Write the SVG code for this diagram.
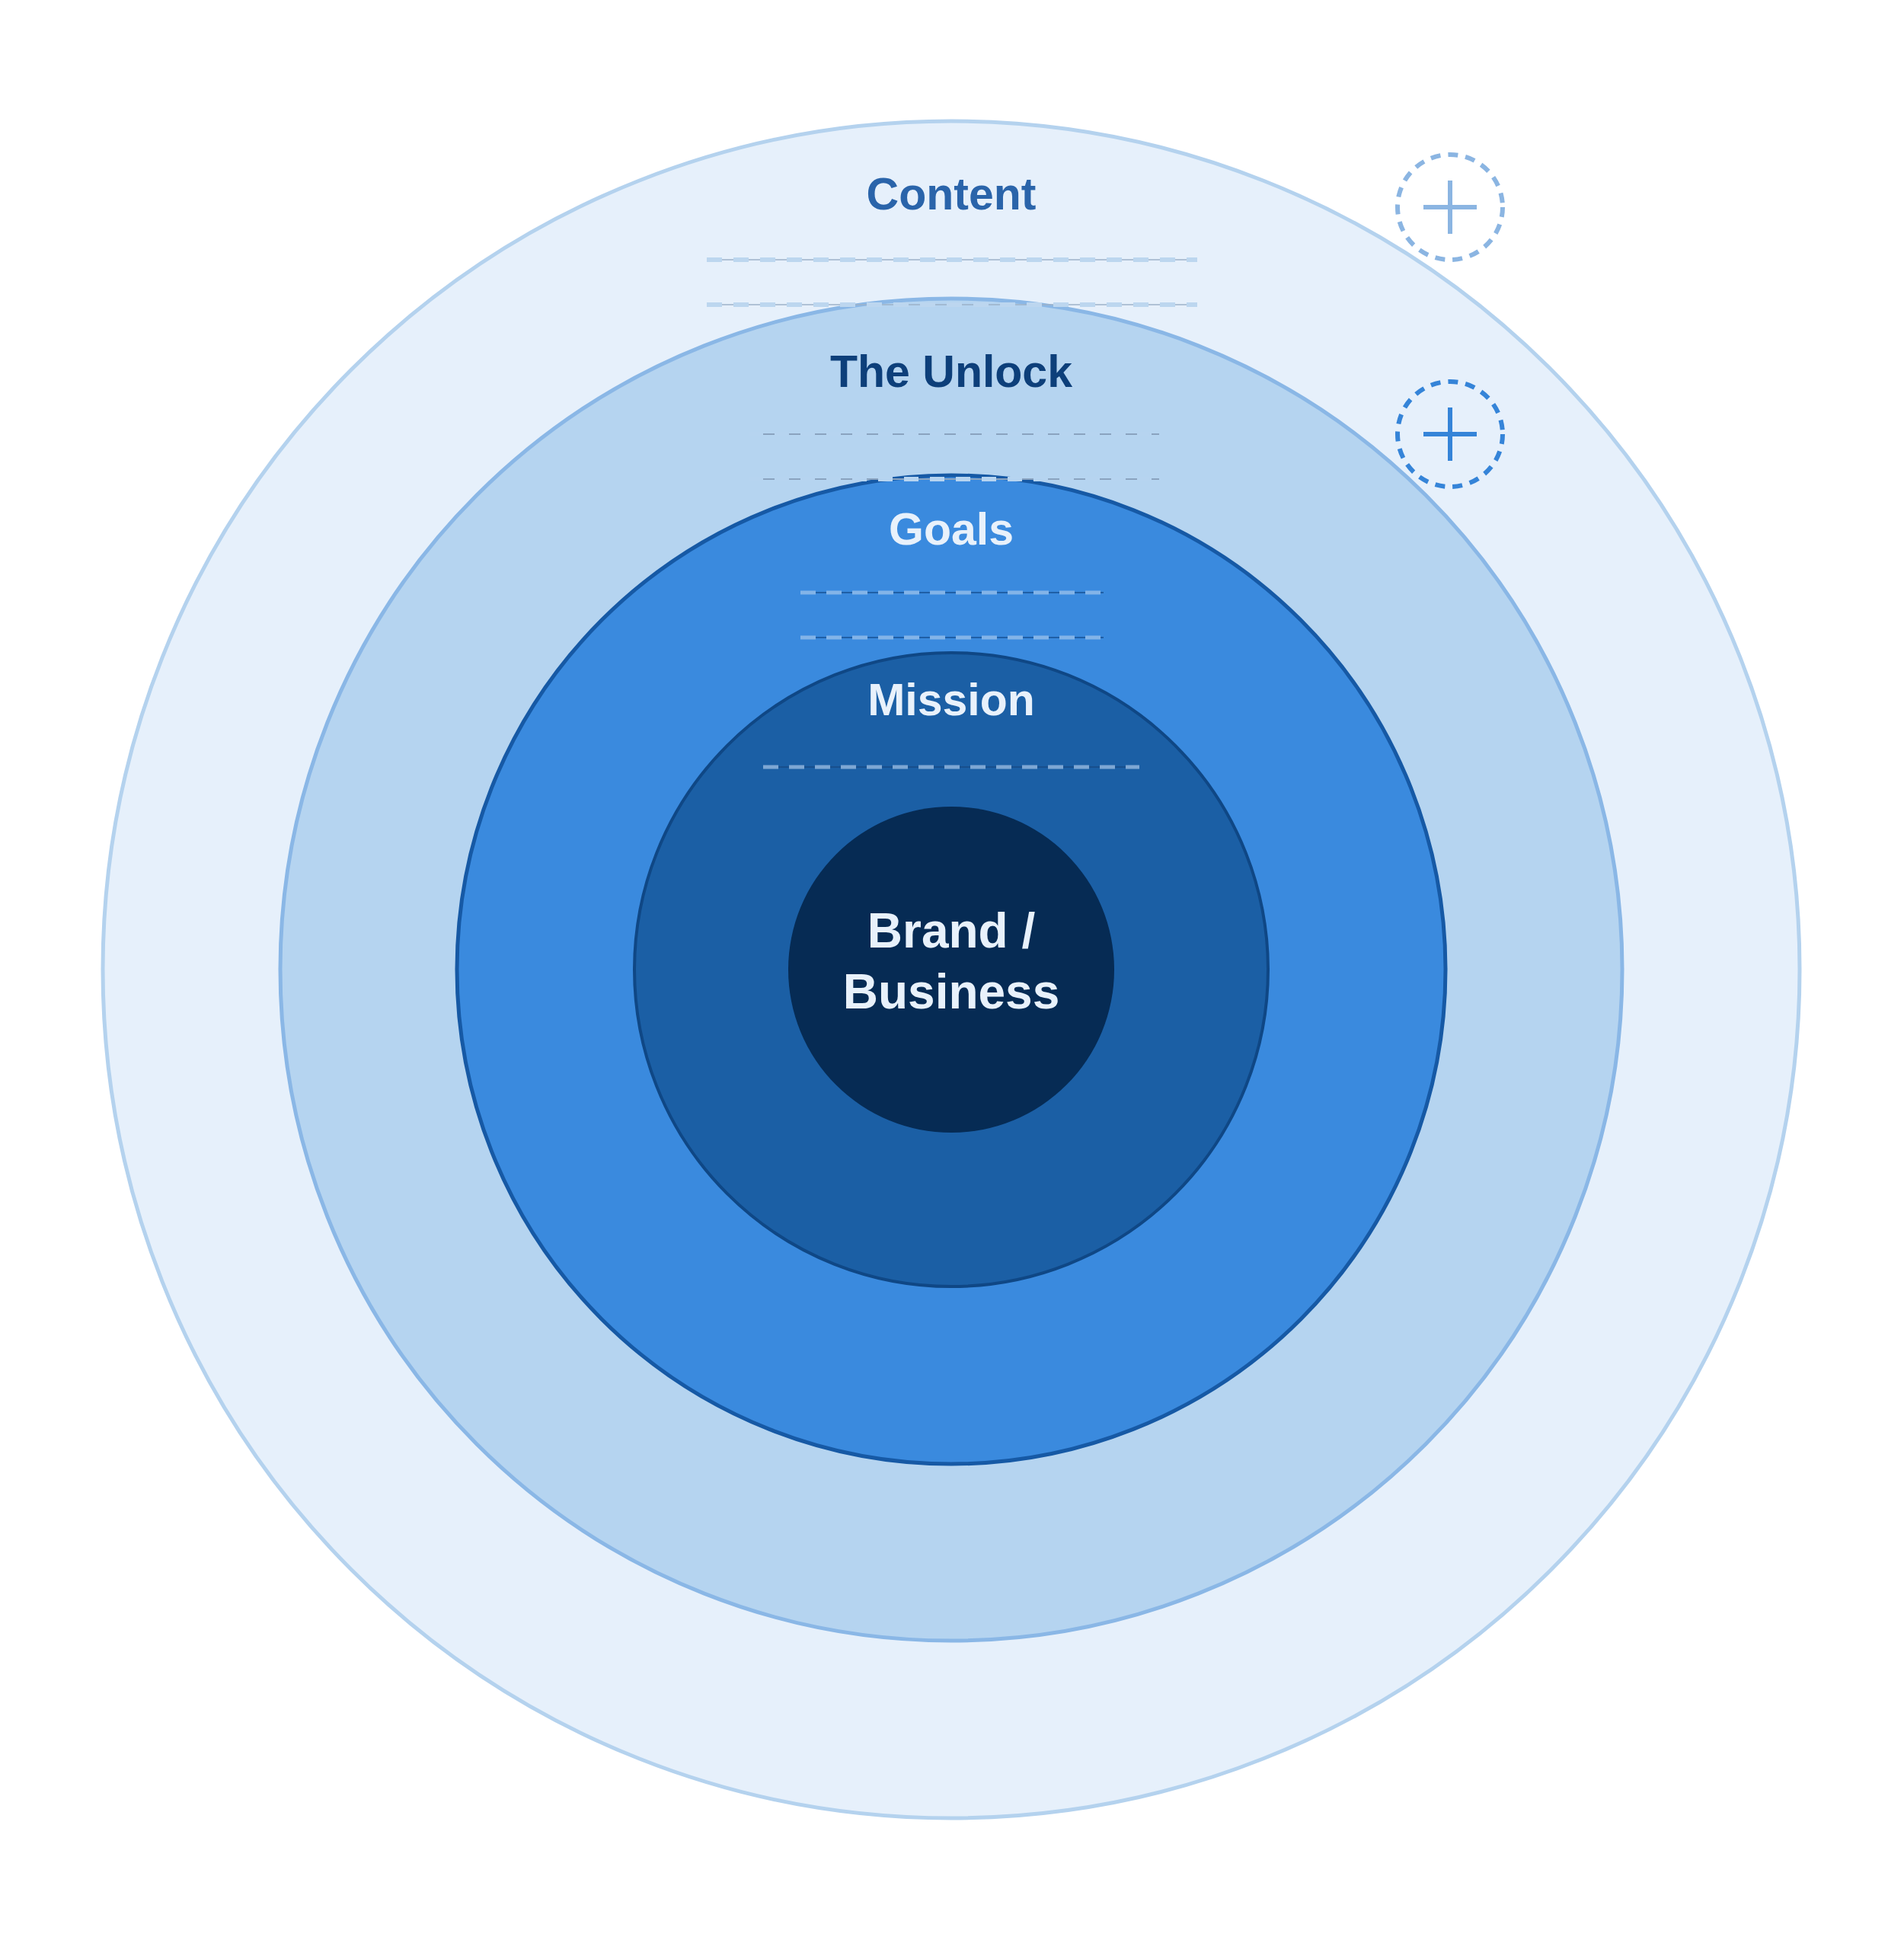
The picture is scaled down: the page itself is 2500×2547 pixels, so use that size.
<svg xmlns="http://www.w3.org/2000/svg" width="2500" height="2547" viewBox="0 0 2500 2547">
<defs>
<style>
.lbl{font-family:"Liberation Sans",Arial,Helvetica,sans-serif;font-weight:bold;text-anchor:middle}
.thin-c{stroke:#9db2c9;stroke-width:1.5;fill:none}
.thick-c{stroke:#bcd6ef;stroke-width:6;stroke-dasharray:20 15;fill:none}
.thin-u{stroke:#8aa3bf;stroke-width:2;fill:none}
.thick-u{stroke:#b6d4f0;stroke-width:6;stroke-dasharray:19 15;fill:none}
.thin-g{stroke:#1f5fa6;stroke-width:2;fill:none}
.thick-g{stroke:#83b4e8;stroke-width:5;stroke-dasharray:20 14;fill:none}
.thin-m{stroke:#184f8c;stroke-width:2;fill:none}
.thick-m{stroke:#7ea7d4;stroke-width:5;stroke-dasharray:20 14;fill:none}
.plus{fill:none;stroke-width:6}
</style>
</defs>
<rect width="2500" height="2547" fill="#ffffff"/>
<g id="content">
<circle cx="1249" cy="1273" r="1114" fill="#e6f0fb" stroke="#b4d2ee" stroke-width="5"/>
</g>
<g id="unlock">
<circle cx="1249" cy="1273" r="881" fill="#b5d4f0" stroke="#8ab7e6" stroke-width="5"/>
</g>
<g id="goals">
<circle cx="1249" cy="1273" r="649" fill="#3a8ade" stroke="#1659a5" stroke-width="5"/>
</g>
<g id="mission">
<circle cx="1249" cy="1273" r="416" fill="#1b5fa5" stroke="#0f4785" stroke-width="4"/>
</g>
<g id="brand">
<circle cx="1249" cy="1273" r="214" fill="#062b54"/>
<text class="lbl" x="1249" y="1244" font-size="64" fill="#e8f1fb">Brand /</text>
<text class="lbl" x="1249" y="1324" font-size="64" fill="#e8f1fb">Business</text>
</g>
<g id="connectors">
<line class="thin-c" x1="928" y1="341" x2="1572" y2="341"/>
<line class="thick-c" x1="928" y1="341" x2="1572" y2="341"/>
<line class="thin-c" x1="928" y1="400" x2="1572" y2="400"/>
<line class="thick-c" x1="928" y1="400" x2="1572" y2="400"/>
<line class="thin-u" x1="998" y1="570" x2="1522" y2="570"/>
<line class="thick-u" x1="983" y1="570" x2="1522" y2="570"/>
<line class="thin-u" x1="998" y1="629" x2="1522" y2="629"/>
<line class="thick-u" x1="983" y1="629" x2="1522" y2="629"/>
<line class="thin-g" x1="1051" y1="778" x2="1449" y2="778"/>
<line class="thick-g" x1="1051" y1="778" x2="1449" y2="778"/>
<line class="thin-g" x1="1051" y1="837" x2="1449" y2="837"/>
<line class="thick-g" x1="1051" y1="837" x2="1449" y2="837"/>
<line class="thin-m" x1="1002" y1="1007" x2="1496" y2="1007"/>
<line class="thick-m" x1="1002" y1="1007" x2="1496" y2="1007"/>
</g>
<g id="labels">
<text class="lbl" x="1249" y="275" font-size="59" fill="#2a64aa">Content</text>
<text class="lbl" x="1249" y="508" font-size="59" fill="#0d3f7a">The Unlock</text>
<text class="lbl" x="1249" y="715" font-size="59" fill="#e8f1fb">Goals</text>
<text class="lbl" x="1249" y="939" font-size="59" fill="#e8f1fb">Mission</text>
</g>
<g id="add-content">
<circle class="plus" cx="1904" cy="272" r="69" stroke="#8bb5e2" stroke-dasharray="13 10"/>
<path class="plus" d="M1869 272H1939M1904 237V307" stroke="#8bb5e2"/>
</g>
<g id="add-unlock">
<circle class="plus" cx="1904" cy="570" r="69" stroke="#3584d8" stroke-dasharray="13 10"/>
<path class="plus" d="M1869 570H1939M1904 535V605" stroke="#3584d8"/>
</g>
</svg>
